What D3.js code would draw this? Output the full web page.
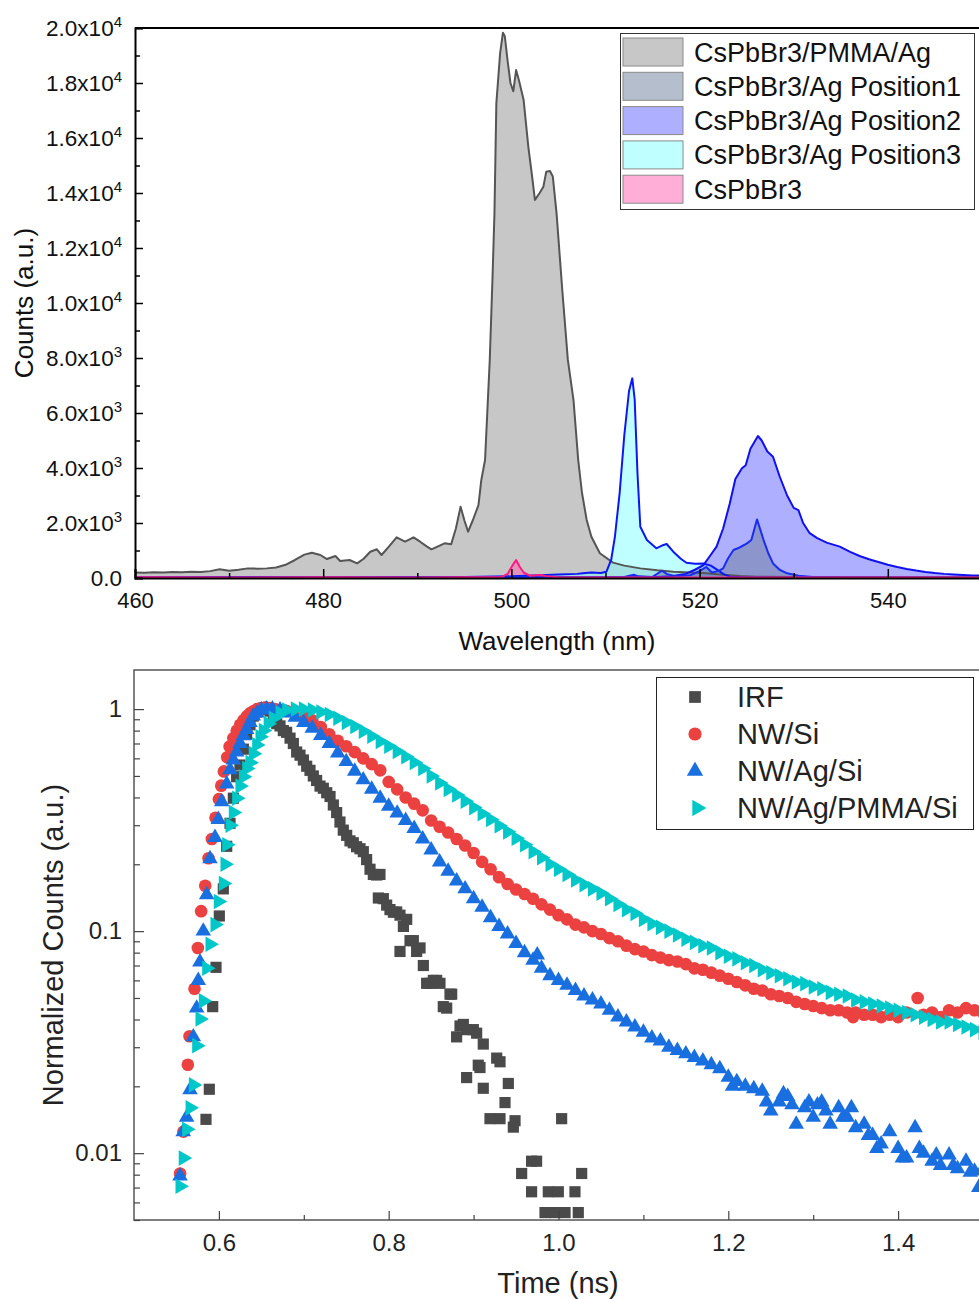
<!DOCTYPE html>
<html><head><meta charset="utf-8">
<script src="https://cdn.jsdelivr.net/npm/d3@7"></script>
<style>
body{margin:0;background:#fff;}
svg{display:block;font-family:"Liberation Sans",Arial,sans-serif;}
</style>
</head><body>
<svg id="c" width="979" height="1299"></svg>
<script>
// ---------------- DATA: PL spectra (wavelength nm, counts) ----------------
const specPMMAAg = [[460,200],[461,190],[462,210],[463,200],[464,215],[465,205],[466,230],[467,220],[468,250],[469,316],[470,265],[471,300],[472,350],[473,340],[474,350],[475,380],[476,480],[477,655],[478,850],[478.8,920],[479.7,836],[480.4,690],[481.3,800],[481.8,618],[482.8,655],[483.6,534],[484.3,700],[485,956],[485.7,1044],[486.2,836],[487,1150],[487.8,1480],[488.7,1320],[489.6,1480],[490.3,1320],[491,1150],[491.5,1044],[492.2,1150],[492.9,1262],[493.6,1225],[494.1,1800],[494.6,2590],[495.0,2100],[495.4,1684],[495.9,2100],[496.5,2650],[496.8,3560],[497.2,4290],[497.7,7930],[498.0,11000],[498.2,13270],[498.4,17260],[498.8,19080],[499.1,19830],[499.3,19700],[499.6,18800],[499.9,18000],[500.2,17700],[500.5,18470],[500.8,18100],[501.3,17380],[501.8,15680],[502.2,14600],[502.5,13750],[503.0,14000],[503.4,14230],[503.7,14770],[504.1,14800],[504.4,14600],[504.8,13260],[505.4,10500],[506.0,7930],[506.6,6470],[507.1,4290],[507.5,3100],[508.0,2110],[508.5,1500],[509.4,900],[510.8,560],[512,450],[513.7,350],[515.5,280],[517.2,230],[519,200],[520.7,170],[522.5,120],[524.3,70],[526,50],[530,40],[535,40],[540,30],[545,30],[550,30]];
const specAgPos1 = [[460,10],[470,15],[480,10],[490,20],[500,15],[505,20],[510,20],[512,40],[513,120],[513.5,60],[515,40],[516,265],[516.5,150],[517.5,60],[519,100],[520,250],[520.7,400],[521.3,200],[522,250],[522.5,350],[523,700],[523.6,1018],[524.2,1100],[525,1250],[525.5,1380],[526.1,2130],[526.8,1380],[527.3,900],[527.8,530],[528.5,300],[529.3,170],[530.5,80],[532,40],[535,20],[540,15],[550,10]];
const specAgPos2 = [[460,20],[480,25],[500,25],[510,30],[515,30],[517,60],[518.5,150],[519.5,300],[520.4,470],[521.1,800],[521.8,1140],[522.5,1800],[523.2,2700],[523.8,3600],[524.5,3990],[524.9,4100],[525.4,4700],[526.2,5164],[526.6,5000],[527.2,4600],[527.8,4410],[528.5,3700],[529.3,3000],[530,2550],[530.5,2470],[531,2000],[531.7,1630],[532.5,1450],[533.5,1285],[534.9,1140],[536,950],[537,800],[538,680],[539,580],[540,480],[541,400],[542,330],[543,270],[544,220],[545,180],[546,150],[547,130],[548,110],[549,95],[550,85]];
const specAgPos3 = [[460,20],[480,30],[495,40],[500,60],[503,100],[505,130],[507,150],[507.6,170],[508.5,200],[509.5,180],[510.1,230],[510.6,655],[511,1500],[511.5,3080],[512,5200],[512.5,6800],[512.85,7260],[513.1,6500],[513.4,3800],[513.7,1865],[514.4,1380],[515.4,1080],[516,1180],[516.5,1236],[517.2,956],[518,700],[518.6,556],[519.5,520],[520.4,530],[521.2,450],[521.8,316],[522.5,150],[523.2,50],[525,20],[530,10],[550,10]];
const specCsPbBr3 = [[460,30],[470,20],[480,25],[490,20],[495,25],[499,40],[499.6,150],[500.1,450],[500.5,655],[500.9,400],[501.3,200],[502,80],[502.7,100],[503.2,110],[503.8,60],[505,30],[510,20],[520,20],[530,20],[540,20],[550,20]];
const spectraLabels = ["CsPbBr3/PMMA/Ag","CsPbBr3/Ag Position1","CsPbBr3/Ag Position2","CsPbBr3/Ag Position3","CsPbBr3"];
const wlTicks = [460,480,500,520,540];
const countTicks = [0,2000,4000,6000,8000,10000,12000,14000,16000,18000,20000];

// ---------------- DATA: TRPL decays (time ns, normalized counts) ----------------
const trIRF = [[0.5848,0.0142],[0.5887,0.0194],[0.5927,0.0457],[0.5966,0.0687],[0.6005,0.117],[0.6052,0.155],[0.6092,0.241],[0.6131,0.306],[0.6170,0.397],[0.6209,0.496],[0.6248,0.56],[0.6288,0.66],[0.6327,0.771],[0.6366,0.85],[0.6405,0.93],[0.6445,0.97],[0.6484,1.0],[0.6523,1.01],[0.6563,1.0],[0.6602,0.98],[0.6641,0.93],[0.6681,0.86],[0.6720,0.84],[0.6759,0.80],[0.6798,0.786],[0.6838,0.74],[0.6877,0.70],[0.6916,0.641],[0.6955,0.62],[0.6995,0.59],[0.7034,0.553],[0.7073,0.53],[0.7112,0.50],[0.7151,0.477],[0.7191,0.45],[0.7230,0.44],[0.7270,0.42],[0.7309,0.404],[0.7348,0.37],[0.7387,0.342],[0.7426,0.31],[0.7465,0.285],[0.7505,0.27],[0.7544,0.255],[0.7583,0.25],[0.7622,0.24],[0.7662,0.235],[0.7701,0.228],[0.7740,0.21],[0.7780,0.19],[0.7819,0.18],[0.7858,0.179],[0.7878,0.141],[0.7897,0.18],[0.7937,0.14],[0.7976,0.131],[0.8015,0.125],[0.8055,0.1217],[0.8094,0.122],[0.8133,0.081],[0.8133,0.118],[0.8173,0.105],[0.8212,0.113],[0.8251,0.0906],[0.8290,0.0906],[0.8329,0.081],[0.8369,0.084],[0.8408,0.070],[0.8447,0.0582],[0.8487,0.0582],[0.8526,0.060],[0.8565,0.060],[0.8604,0.0582],[0.8643,0.0457],[0.8683,0.045],[0.8722,0.052],[0.8742,0.052],[0.8800,0.0334],[0.8840,0.0374],[0.8879,0.038],[0.8918,0.036],[0.8918,0.0219],[0.8997,0.036],[0.9036,0.0347],[0.9055,0.0249],[0.9075,0.0243],[0.9114,0.031],[0.9114,0.0196],[0.9193,0.0143],[0.9272,0.0268],[0.9311,0.0258],[0.9311,0.0143],[0.9370,0.0169],[0.9409,0.0206],[0.9468,0.0131],[0.9488,0.0140],[0.9566,0.0081],[0.9683,0.0092],[0.9683,0.0067],[0.9742,0.0092],[0.9841,0.0054],[0.9880,0.0067],[0.9959,0.0054],[0.9998,0.0067],[1.0037,0.0143],[1.0077,0.0054],[1.0194,0.0067],[1.0233,0.0054],[1.0273,0.0081]];
const trNWSi = [[0.5543,0.0081],[0.5582,0.0125],[0.5634,0.025],[0.5654,0.0336],[0.5713,0.055],[0.5752,0.084],[0.5791,0.123],[0.5839,0.160],[0.5878,0.213],[0.5917,0.260],[0.5960,0.324],[0.6000,0.393],[0.6028,0.452],[0.6059,0.524],[0.6098,0.607],[0.6126,0.678],[0.6170,0.74],[0.6210,0.80],[0.6250,0.85],[0.6290,0.89],[0.6330,0.93],[0.6370,0.96],[0.6410,0.98],[0.6450,1.0],[0.6500,1.01],[0.6550,1.02],[0.6600,1.01],[0.6660,1.0],[0.6720,0.99],[0.6800,0.98],[0.6900,0.96],[0.7000,0.93],[0.7100,0.89],[0.7200,0.83],[0.7300,0.77],[0.7400,0.72],[0.7500,0.68],[0.7600,0.64],[0.7700,0.60],[0.7800,0.565],[0.7900,0.53],[0.8000,0.47],[0.8100,0.435],[0.8200,0.40],[0.8300,0.375],[0.8400,0.35],[0.8500,0.315],[0.8600,0.295],[0.8700,0.278],[0.8800,0.26],[0.8900,0.243],[0.9000,0.225],[0.9100,0.205],[0.9200,0.19],[0.9300,0.175],[0.9400,0.163],[0.9500,0.154],[0.9600,0.147],[0.9700,0.140],[0.9800,0.132],[0.9900,0.125],[1.0000,0.118],[1.0100,0.113],[1.0200,0.107],[1.0300,0.104],[1.0400,0.100],[1.0500,0.097],[1.0600,0.093],[1.0700,0.090],[1.0800,0.086],[1.0900,0.083],[1.1000,0.081],[1.1100,0.078],[1.1200,0.076],[1.1300,0.074],[1.1400,0.073],[1.1500,0.071],[1.1600,0.068],[1.1700,0.067],[1.1800,0.065],[1.1900,0.063],[1.2000,0.061],[1.2100,0.059],[1.2200,0.057],[1.2300,0.055],[1.2400,0.054],[1.2500,0.052],[1.2600,0.051],[1.2700,0.050],[1.2800,0.048],[1.2900,0.047],[1.3000,0.046],[1.3100,0.045],[1.3200,0.044],[1.3300,0.044],[1.3400,0.043],[1.3470,0.041],[1.3500,0.043],[1.3600,0.042],[1.3700,0.042],[1.3800,0.041],[1.3900,0.042],[1.4000,0.041],[1.4100,0.043],[1.4230,0.050],[1.4300,0.042],[1.4400,0.043],[1.4500,0.041],[1.4600,0.044],[1.4700,0.043],[1.4800,0.045],[1.4900,0.044],[1.5000,0.043]];
const trNWAgSi = [[0.5542,0.0079],[0.5580,0.0125],[0.5620,0.0145],[0.5660,0.0193],[0.5699,0.0334],[0.5738,0.045],[0.5757,0.060],[0.5777,0.0726],[0.5816,0.10],[0.5856,0.146],[0.5895,0.212],[0.5954,0.264],[0.5993,0.318],[0.6033,0.383],[0.6092,0.46],[0.6131,0.533],[0.6170,0.59],[0.6209,0.641],[0.6250,0.70],[0.6288,0.758],[0.6327,0.81],[0.6366,0.87],[0.6405,0.93],[0.6450,0.96],[0.6500,0.99],[0.6563,1.0],[0.6630,1.0],[0.6720,0.99],[0.6800,0.96],[0.6900,0.92],[0.7000,0.87],[0.7100,0.82],[0.7200,0.76],[0.7300,0.70],[0.7400,0.635],[0.7500,0.58],[0.7600,0.525],[0.7700,0.48],[0.7800,0.435],[0.7900,0.397],[0.8000,0.365],[0.8100,0.34],[0.8200,0.315],[0.8300,0.29],[0.8400,0.26],[0.8500,0.232],[0.8600,0.205],[0.8700,0.186],[0.8800,0.168],[0.8900,0.155],[0.9000,0.140],[0.9100,0.128],[0.9200,0.115],[0.9300,0.105],[0.9400,0.097],[0.9500,0.088],[0.9600,0.080],[0.9700,0.074],[0.9750,0.078],[0.9800,0.068],[0.9900,0.063],[1.0000,0.060],[1.0100,0.057],[1.0200,0.054],[1.0300,0.051],[1.0400,0.049],[1.0500,0.047],[1.0600,0.044],[1.0700,0.041],[1.0800,0.039],[1.0900,0.037],[1.1000,0.035],[1.1100,0.033],[1.1200,0.032],[1.1300,0.030],[1.1400,0.029],[1.1500,0.028],[1.1600,0.027],[1.1700,0.026],[1.1800,0.025],[1.1900,0.024],[1.2000,0.022],[1.2050,0.020],[1.2100,0.021],[1.2200,0.020],[1.2300,0.0195],[1.2400,0.019],[1.2450,0.017],[1.2500,0.0155],[1.2600,0.017],[1.2650,0.0185],[1.2700,0.018],[1.2750,0.0165],[1.2800,0.0135],[1.2900,0.016],[1.2950,0.017],[1.3000,0.0145],[1.3050,0.0165],[1.3100,0.017],[1.3150,0.0155],[1.3200,0.0135],[1.3300,0.016],[1.3350,0.0145],[1.3400,0.0145],[1.3450,0.016],[1.3500,0.013],[1.3600,0.0135],[1.3650,0.012],[1.3700,0.012],[1.3750,0.0105],[1.3800,0.011],[1.3900,0.0125],[1.4000,0.0105],[1.4050,0.0095],[1.4100,0.0095],[1.4200,0.013],[1.4250,0.0105],[1.4300,0.010],[1.4400,0.0092],[1.4450,0.0098],[1.4500,0.0088],[1.4600,0.0098],[1.4650,0.0088],[1.4700,0.0085],[1.4800,0.0092],[1.4850,0.0082],[1.4900,0.0083],[1.4950,0.0070],[1.5000,0.0085]];
const trNWAgPMMASi = [[0.5542,0.0071],[0.5580,0.0095],[0.5620,0.0128],[0.5660,0.016],[0.5699,0.0203],[0.5738,0.0305],[0.5777,0.0402],[0.5816,0.0485],[0.5856,0.068],[0.5895,0.0873],[0.5954,0.107],[0.5993,0.136],[0.6052,0.164],[0.6072,0.20],[0.6092,0.245],[0.6131,0.30],[0.6170,0.342],[0.6209,0.397],[0.6248,0.45],[0.6288,0.496],[0.6327,0.54],[0.6366,0.574],[0.6405,0.63],[0.6445,0.69],[0.6484,0.75],[0.6523,0.80],[0.6580,0.86],[0.6641,0.91],[0.6720,0.96],[0.6798,0.99],[0.6900,1.0],[0.6995,1.0],[0.7100,0.99],[0.7200,0.97],[0.7300,0.945],[0.7400,0.91],[0.7500,0.87],[0.7600,0.835],[0.7700,0.795],[0.7800,0.755],[0.7900,0.715],[0.8000,0.68],[0.8100,0.645],[0.8200,0.61],[0.8300,0.575],[0.8400,0.54],[0.8500,0.50],[0.8600,0.465],[0.8700,0.435],[0.8800,0.41],[0.8900,0.385],[0.9000,0.36],[0.9100,0.338],[0.9200,0.318],[0.9300,0.298],[0.9400,0.28],[0.9500,0.262],[0.9600,0.245],[0.9700,0.228],[0.9800,0.214],[0.9900,0.20],[1.0000,0.19],[1.0100,0.18],[1.0200,0.17],[1.0300,0.162],[1.0400,0.155],[1.0500,0.148],[1.0600,0.14],[1.0700,0.132],[1.0800,0.125],[1.0900,0.12],[1.1000,0.113],[1.1100,0.108],[1.1200,0.104],[1.1300,0.100],[1.1400,0.096],[1.1500,0.092],[1.1600,0.089],[1.1700,0.086],[1.1800,0.084],[1.1900,0.080],[1.2000,0.077],[1.2100,0.075],[1.2200,0.072],[1.2300,0.070],[1.2400,0.067],[1.2500,0.065],[1.2600,0.063],[1.2700,0.061],[1.2800,0.059],[1.2900,0.058],[1.3000,0.056],[1.3100,0.055],[1.3200,0.053],[1.3300,0.052],[1.3400,0.051],[1.3500,0.049],[1.3600,0.048],[1.3700,0.047],[1.3800,0.046],[1.3900,0.045],[1.4000,0.044],[1.4100,0.043],[1.4200,0.042],[1.4300,0.041],[1.4400,0.040],[1.4500,0.039],[1.4600,0.039],[1.4700,0.038],[1.4800,0.037],[1.4900,0.036],[1.5000,0.035]];
const trLabels = ["IRF","NW/Si","NW/Ag/Si","NW/Ag/PMMA/Si"];
const timeTicks = [0.6,0.8,1.0,1.2,1.4];
const normTicks = [0.01,0.1,1];

// ---------------- STYLES ----------------
const specStyle = [
  {fill:"#909090", line:"#555555"},
  {fill:"#6a7d99", line:"#1a2cf0"},
  {fill:"#6060ff", line:"#1010f0"},
  {fill:"#80ffff", line:"#0c18f4"},
  {fill:"#ff60b0", line:"#ff1a80"}
];
const fillOpacity = 0.5;
const trStyle = [
  {color:"#4a4a4a", sym:d3.symbolSquare, size:125, rot:0},
  {color:"#eb4141", sym:d3.symbolCircle, size:125, rot:0},
  {color:"#1a6fe0", sym:d3.symbolTriangle, size:105, rot:0},
  {color:"#00c8c8", sym:d3.symbolTriangle, size:105, rot:90}
];

const svg = d3.select("#c");

// ================= TOP CHART =================
const T = {l:135, t:28, b:578};
const xW = d3.scaleLinear().domain([460,550]).range([T.l, T.l + 90*9.41]);
const yC = d3.scaleLinear().domain([0,20000]).range([T.b, T.t]);

svg.append("clipPath").attr("id","clipTop").append("rect")
  .attr("x",T.l).attr("y",T.t).attr("width",xW(550)-T.l).attr("height",T.b-T.t);

const gTop = svg.append("g").attr("clip-path","url(#clipTop)");
const area = d3.area().x(d=>xW(d[0])).y0(yC(0)).y1(d=>yC(d[1]));
const line = d3.line().x(d=>xW(d[0])).y(d=>yC(d[1]));
const spectra = [specPMMAAg, specAgPos3, specAgPos2, specAgPos1, specCsPbBr3];
const specIdx = [0,3,2,1,4];
spectra.forEach((s,i)=>{
  const st = specStyle[specIdx[i]];
  gTop.append("path").datum(s).attr("d",area).attr("fill",st.fill).attr("fill-opacity",fillOpacity);
});
spectra.forEach((s,i)=>{
  const st = specStyle[specIdx[i]];
  gTop.append("path").datum(s).attr("d",line).attr("fill","none").attr("stroke",st.line).attr("stroke-width",2).attr("stroke-linejoin","round");
});

// axes top
const minorW = d3.range(470,551,20);
svg.append("g").attr("transform",`translate(0,${T.b})`)
  .call(d3.axisBottom(xW).tickValues(minorW).tickSize(-5).tickFormat(""))
  .call(g=>{g.select(".domain").remove(); g.selectAll("line").attr("stroke","#000").attr("stroke-width",1.5);});
svg.append("g").attr("transform",`translate(0,${T.b})`)
  .call(d3.axisBottom(xW).tickValues(wlTicks).tickSize(-9).tickPadding(14).tickFormat(d3.format("d")))
  .call(g=>{g.select(".domain").attr("stroke","#000").attr("stroke-width",2);
    g.selectAll("line").attr("stroke","#000").attr("stroke-width",1.5);
    g.selectAll("text").attr("font-size",22).attr("fill","#111");});
const minorC = d3.range(1000,20000,2000);
svg.append("g").attr("transform",`translate(${T.l},0)`)
  .call(d3.axisLeft(yC).tickValues(minorC).tickSize(-5).tickFormat(""))
  .call(g=>{g.select(".domain").remove(); g.selectAll("line").attr("stroke","#000").attr("stroke-width",1.5);});
svg.append("g").attr("transform",`translate(${T.l},0)`)
  .call(d3.axisLeft(yC).tickValues(countTicks).tickSize(-8).tickPadding(13))
  .call(g=>{g.select(".domain").attr("stroke","#000").attr("stroke-width",2);
    g.selectAll("line").attr("stroke","#000").attr("stroke-width",1.5);
    g.selectAll("text").attr("font-size",22.5).attr("fill","#111").each(function(d){
      const t=d3.select(this); t.text(null);
      if(d===0){t.text("0.0");return;}
      const e=Math.floor(Math.log10(d)+1e-9), m=(d/Math.pow(10,e)).toFixed(1);
      t.append("tspan").text(m+"x10");
      t.append("tspan").attr("dy","-0.55em").attr("font-size",15).text(e);
    });});
// top frame line
svg.append("line").attr("x1",T.l).attr("x2",979).attr("y1",T.t).attr("y2",T.t).attr("stroke","#000").attr("stroke-width",2);

svg.append("text").attr("x",557).attr("y",650).attr("text-anchor","middle").attr("font-size",26).attr("fill","#111").text("Wavelength (nm)");
svg.append("text").attr("transform","translate(33,303) rotate(-90)").attr("text-anchor","middle").attr("font-size",26).attr("fill","#111").text("Counts (a.u.)");

// legend top
const lgT = svg.append("g");
lgT.append("rect").attr("x",620.5).attr("y",33.5).attr("width",354).attr("height",176).attr("fill","#fff").attr("stroke","#333").attr("stroke-width",1);
spectraLabels.forEach((lab,i)=>{
  const y = 52 + i*34.3;
  lgT.append("rect").attr("x",623).attr("y",y-14).attr("width",60).attr("height",28).attr("fill","#fff");
  lgT.append("rect").attr("x",623).attr("y",y-14).attr("width",60).attr("height",28)
    .attr("fill",specStyle[i].fill).attr("fill-opacity",fillOpacity).attr("stroke","#8a8a8a").attr("stroke-width",1);
  lgT.append("text").attr("x",694).attr("y",y+9.5).attr("font-size",27).attr("fill","#111").text(lab);
});

// ================= BOTTOM CHART =================
const B = {l:134, t:670, b:1220};
const xT = d3.scaleLinear().domain([0.5,1.5]).range([B.l, B.l+849]);
const yN = d3.scaleLog().domain([0.005,1.5]).range([B.b, B.t]);

svg.append("clipPath").attr("id","clipBot").append("rect")
  .attr("x",B.l).attr("y",B.t).attr("width",xT(1.5)-B.l).attr("height",B.b-B.t);
const gBot = svg.append("g").attr("clip-path","url(#clipBot)");
const trSeries = [trIRF, trNWSi, trNWAgSi, trNWAgPMMASi];
trSeries.forEach((s,i)=>{
  const st = trStyle[i];
  const sym = d3.symbol().type(st.sym).size(st.size)();
  gBot.append("g").selectAll("path").data(s).join("path")
    .attr("d",sym)
    .attr("transform",d=>`translate(${xT(d[0])},${yN(d[1])}) rotate(${st.rot})`)
    .attr("fill",st.color);
});

// frame
svg.append("rect").attr("x",B.l).attr("y",B.t).attr("width",xT(1.5)-B.l).attr("height",B.b-B.t)
  .attr("fill","none").attr("stroke","#555").attr("stroke-width",1.5);
// x axis
svg.append("g").attr("transform",`translate(0,${B.b})`)
  .call(d3.axisBottom(xT).tickValues([0.7,0.9,1.1,1.3,1.5]).tickSize(-5).tickFormat(""))
  .call(g=>{g.select(".domain").remove(); g.selectAll("line").attr("stroke","#444").attr("stroke-width",1.2);});
svg.append("g").attr("transform",`translate(0,${B.b})`)
  .call(d3.axisBottom(xT).tickValues(timeTicks).tickSize(-9).tickPadding(14).tickFormat(d3.format(".1f")))
  .call(g=>{g.select(".domain").remove(); g.selectAll("line").attr("stroke","#444").attr("stroke-width",1.2);
    g.selectAll("text").attr("font-size",24).attr("fill","#222");});
// y axis
const minorN = [];
[0.001,0.01,0.1].forEach(dec=>{for(let k=2;k<=9;k++){const v=dec*k; if(v>=0.005&&v<=1.5) minorN.push(v);}});
svg.append("g").attr("transform",`translate(${B.l},0)`)
  .call(d3.axisLeft(yN).tickValues(minorN).tickSize(-6).tickFormat(""))
  .call(g=>{g.select(".domain").remove(); g.selectAll("line").attr("stroke","#444").attr("stroke-width",1.2);});
svg.append("g").attr("transform",`translate(${B.l},0)`)
  .call(d3.axisLeft(yN).tickValues(normTicks).tickSize(-10).tickPadding(12).tickFormat(d=>String(d)))
  .call(g=>{g.select(".domain").remove(); g.selectAll("line").attr("stroke","#444").attr("stroke-width",1.2);
    g.selectAll("text").attr("font-size",24).attr("fill","#222");});

svg.append("text").attr("x",558).attr("y",1293).attr("text-anchor","middle").attr("font-size",29).attr("fill","#222").text("Time (ns)");
svg.append("text").attr("transform","translate(63,945) rotate(-90)").attr("text-anchor","middle").attr("font-size",29).attr("fill","#222").text("Normalized Counts (a.u.)");

// legend bottom
const lgB = svg.append("g");
lgB.append("rect").attr("x",656.5).attr("y",677.5).attr("width",317).attr("height",152).attr("fill","#fff").attr("stroke","#222").attr("stroke-width",1);
trLabels.forEach((lab,i)=>{
  const y = 697 + i*37;
  const st = trStyle[i];
  lgB.append("path").attr("d",d3.symbol().type(st.sym).size(st.size*1.1)())
    .attr("transform",`translate(${i===3?697:695},${y}) rotate(${st.rot})`).attr("fill",st.color);
  lgB.append("text").attr("x",737).attr("y",y+10).attr("font-size",29).attr("fill","#222").text(lab);
});
</script>
</body></html>
